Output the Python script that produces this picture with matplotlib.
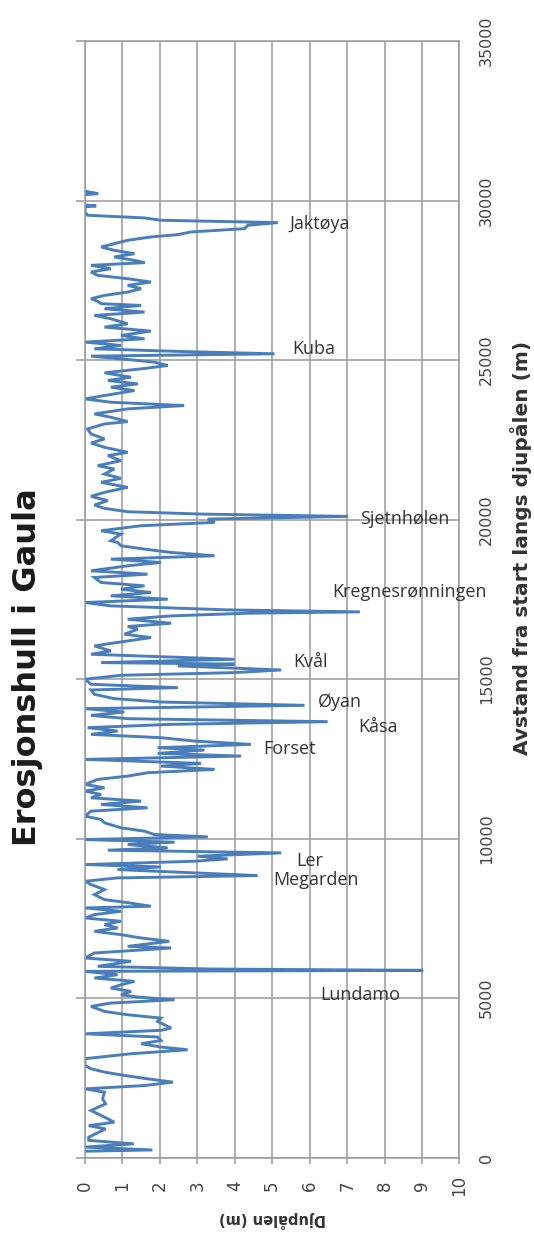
import numpy as np
import matplotlib.pyplot as plt

# Avstand fra start langs djupålen (m) og djup (m), lest av figuren
avstand = [200, 240, 330, 430, 540, 640, 900, 1000, 1110, 1270, 1475, 1685, 1840, 2050,
           2155, 2260, 2365, 2470, 2575, 2680, 2785, 2890, 3100, 3255, 3380, 3465, 3570,
           3670, 3780, 3880, 3990, 4060, 4268, 4373, 4477, 4582, 4739, 4844, 4948, 5032,
           5105, 5210, 5314, 5419, 5524, 5628, 5733, 5838, 5869, 5911, 5995, 6152, 6256,
           6413, 6570, 6622, 6779, 6884, 6988, 7093, 7198, 7302, 7407, 7512, 7616, 7721,
           7825, 7880, 7990, 8087, 8244, 8401, 8558, 8662, 8767, 8840, 8924, 9028, 9112,
           9185, 9290, 9363, 9447, 9552, 9636, 9709, 9813, 9887, 9970, 10054, 10127, 10232,
           10337, 10494, 10598, 10703, 10860, 10964, 11069, 11174, 11278, 11383, 11488,
           11592, 11697, 11854, 11958, 12063, 12168, 12272, 12356, 12482, 12586, 12670,
           12774, 12848, 12952, 13057, 13162, 13266, 13371, 13476, 13580, 13664, 13758,
           13862, 13967, 14072, 14176, 14281, 14386, 14522, 14658, 14731, 14836, 14993,
           15118, 15202, 15285, 15411, 15470, 15516, 15620, 15777, 15882, 16039, 16195,
           16300, 16405, 16562, 16646, 16750, 16876, 16980, 17064, 17106, 17168, 17294,
           17399, 17503, 17608, 17713, 17817, 17922, 18027, 18184, 18288, 18393, 18550,
           18655, 18759, 18864, 18969, 19073, 19178, 19283, 19335, 19545, 19649, 19806,
           19911, 20015, 20099, 20172, 20245, 20350, 20455, 20591, 20727, 20852, 21009,
           21166, 21291, 21427, 21584, 21689, 21846, 22003, 22107, 22264, 22400, 22526,
           22683, 22840, 22997, 23070, 23207, 23311, 23468, 23573, 23677, 23782, 23887,
           24044, 24148, 24253, 24358, 24462, 24598, 24724, 24829, 24933, 25017, 25122,
           25195, 25268, 25352, 25457, 25561, 25666, 25771, 25907, 26032, 26137, 26294,
           26398, 26503, 26608, 26712, 26765, 26838, 26921, 27026, 27131, 27235, 27340,
           27445, 27549, 27654, 27759, 27863, 27968, 28052, 28125, 28230, 28334, 28439,
           28544, 28648, 28753, 28858, 28931, 29014, 29119, 29224, 29308, 29381, 29454,
           29538, 29643, 29747,
           np.nan, 29800, 29830, 29860,
           np.nan, 30180, 30216, 30250, 30290]

djup = [0.0, 1.8, 0.0, 1.3, 0.1, 0.1, 0.55, 0.1, 0.78, 0.52, 0.16, 0.55, 0.47, 0.52,
        0.0, 1.6, 2.35, 1.67, 1.05, 0.52, 0.16, 0.0, 0.0, 1.23, 2.74, 2.03, 1.5,
        2.03, 1.94, 0.0, 2.03, 2.3, 1.94, 2.03, 1.14, 0.52, 0.16, 0.69, 2.39, 1.41,
        0.96, 1.23, 0.69, 0.96, 1.32, 0.25, 0.87, 0.0, 9.03, 3.37, 0.34, 1.23, 0.0,
        0.25, 2.3, 1.14, 2.25, 1.5, 0.96, 0.25, 0.87, 0.52, 0.96, 0.0, 0.25, 0.96,
        0.0, 1.76, 1.14, 0.52, 0.25, 0.52, 0.16, 0.0, 0.87, 4.61, 2.92, 0.87, 2.03,
        0.0, 2.92, 3.81, 3.01, 5.24, 0.61, 2.21, 1.14, 2.39, 0.0, 3.28, 1.85, 1.59,
        0.96, 0.52, 0.43, 0.0, 0.16, 1.67, 0.43, 1.5, 0.16, 0.43, 0.0,
        0.52, 0.0, 0.34, 1.14, 1.67, 3.46, 2.03, 3.1, 0.0, 4.17, 1.94,
        3.19, 1.94, 4.43, 2.92, 2.03, 0.16, 0.87, 0.07, 2.3, 6.48, 1.14,
        0.16, 1.05, 0.0, 5.86, 2.03, 0.78, 0.25, 0.16, 2.48, 0.16, 0.0,
        0.96, 3.99, 5.24, 2.48, 3.99, 0.43, 3.99, 0.16, 0.69, 0.25, 1.14,
        1.76, 1.05, 1.41, 1.14, 2.3, 1.14, 2.3, 4.35, 7.34, 3.81, 0.69,
        0.0, 2.21, 0.69, 1.76, 0.96, 1.59, 0.43, 0.25, 1.67, 0.16, 1.14,
        2.03, 0.69, 3.46, 2.3, 1.59, 0.96, 0.87, 0.69, 0.96, 0.43, 1.5,
        3.46, 3.28, 7.02, 3.1, 1.14, 0.52, 0.25, 0.61, 0.16, 0.52, 1.14,
        0.43, 0.96, 0.52, 0.78, 0.34, 0.96, 0.61, 1.14, 0.52, 0.16, 0.52,
        0.16, 0.07, 0.52, 1.14, 0.69, 0.25, 1.14, 2.65, 0.69, 0.0, 0.52,
        1.32, 0.69, 1.41, 0.61, 1.23, 0.52, 1.5, 2.21, 1.85, 1.14, 0.16,
        5.06, 2.56, 0.25, 0.96, 0.0, 1.59, 0.96, 1.76, 0.52, 1.14, 0.69,
        0.25, 1.59, 0.52, 1.5, 0.43, 0.34, 0.16, 0.52, 1.14, 1.5, 1.14,
        1.76, 1.14, 0.34, 0.16, 0.69, 0.16, 1.59, 1.32, 0.78, 1.32, 0.78,
        0.43, 0.78, 1.14, 1.76, 2.48, 2.83, 4.26, 4.35, 5.15, 2.03, 1.59,
        0.07, 0.0, 0.0,
        np.nan, 0.0, 0.3, 0.0,
        np.nan, 0.0, 0.35, 0.2, 0.0]

# Stedsnavn ved erosjonshullene
navn = ['Jaktøya', 'Kuba', 'Sjetnhølen', 'Kregnesrønningen', 'Kvål', 'Øyan', 'Kåsa',
        'Forset', 'Ler', 'Megarden', 'Lundamo']
navn_djup = [5.45, 5.53, 7.34, 6.6, 5.55, 6.22, 7.29, 4.75, 5.63, 5.02, 6.27]
navn_avstand = [29270, 25350, 20010, 17723, 15525, 14270, 13486, 12796, 9311, 8714, 5104]

djup_ticks = list(range(0, 11))
avstand_ticks = list(range(0, 35001, 5000))

W, H = 534, 1237
fig = plt.figure(figsize=(W / 100, H / 100), dpi=100)
fig.patch.set_facecolor('white')

x0, x1 = 85, 459.5
y0, y1 = 41, 1157.6
ax = fig.add_axes([x0 / W, 1 - y1 / H, (x1 - x0) / W, (y1 - y0) / H])

ax.plot(djup, avstand, color='#4a7ebb', linewidth=2.1, solid_joinstyle='miter')

ax.set_xlim(0, 10)
ax.set_ylim(0, 35000)
ax.set_xticks(djup_ticks)
ax.set_yticks(avstand_ticks)

gcol = '#9a9a9a'
ax.grid(True, color=gcol, linewidth=1.1)
ax.set_axisbelow(True)
for s in ax.spines.values():
    s.set_color(gcol)
    s.set_linewidth(1.1)

# depth axis (bottom), labels turned as in the rotated chart
ax.tick_params(axis='x', direction='out', length=4, width=1.1, color=gcol,
               labelsize=12, labelcolor='#444444', labelrotation=90, pad=16)
for lab in ax.get_xticklabels():
    lab.set_va('center')
    lab.set_ha('center')

# distance axis: tick marks left, labels right
ax.tick_params(axis='y', direction='out', length=6.5, width=1.1, color=gcol,
               left=True, right=False, labelleft=False, labelright=True,
               labelsize=11.5, labelcolor='#444444', labelrotation=90, pad=13)
for lab in ax.get_yticklabels():
    lab.set_va('center')
    lab.set_ha('center')

ax.set_xlabel('Djupålen (m)', rotation=180, fontsize=10.5, fontweight='bold',
              color='#333333', labelpad=11)

fig.text(521 / W, 1 - 548 / H, 'Avstand fra start langs djupålen (m)', rotation=90,
         ha='center', va='center', fontsize=14.5, fontweight='bold', color='#333333')

fig.text(28 / W, 1 - 667 / H, 'Erosjonshull i Gaula', rotation=90,
         ha='center', va='center', fontsize=23, fontweight='bold', color='#1a1a1a')

for t, xd, yd in zip(navn, navn_djup, navn_avstand):
    ax.text(xd, yd, t, ha='left', va='center', fontsize=13, family='Open Sans',
            color='#333333', clip_on=False)

fig.savefig('out.png', dpi=100, facecolor='white')
